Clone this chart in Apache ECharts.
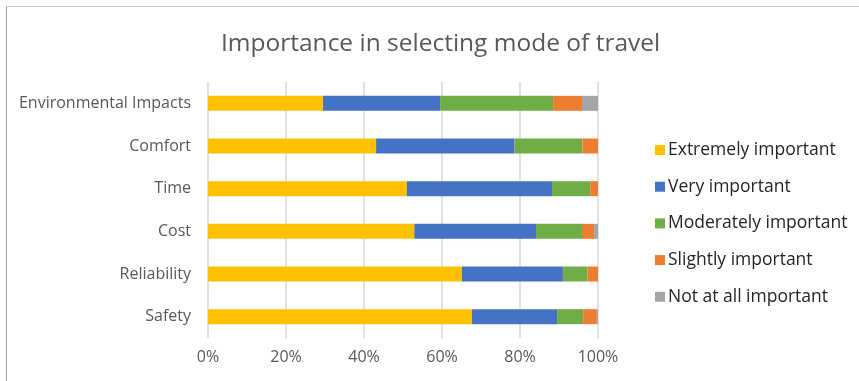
<!DOCTYPE html>
<html>
<head>
<meta charset="utf-8">
<script src="https://cdn.jsdelivr.net/npm/echarts@6/dist/echarts.min.js"></script>
<style>
  html, body { margin: 0; padding: 0; background: #fff; }
  #chart { width: 859px; height: 381px; }
</style>
</head>
<body>
<div id="chart"></div>
<script>
// Factors, listed bottom to top on the category axis
const factors = ['Safety', 'Reliability', 'Cost', 'Time', 'Comfort', 'Environmental Impacts'];

// Share of respondents (%) per importance level
const extremely  = [67.7, 65.1, 52.9, 51.0, 43.1, 29.5];
const very       = [21.8, 25.9, 31.2, 37.2, 35.5, 30.0];
const moderately = [6.7, 6.3, 11.8, 9.8, 17.4, 29.0];
const slightly   = [3.5, 2.7, 3.1, 2.0, 4.0, 7.4];
const notAtAll   = [0.3, 0, 1.0, 0, 0, 4.1];

const levelNames = ['Extremely important', 'Very important', 'Moderately important', 'Slightly important', 'Not at all important'];
const levelData = [extremely, very, moderately, slightly, notAtAll];
const levelColors = ['#FFC000', '#4472C4', '#70AD47', '#ED7D31', '#A5A5A5'];

const FONT = 'Open Sans';

const chart = echarts.init(document.getElementById('chart'), null, { renderer: 'canvas' });

chart.setOption({
  animation: false,
  backgroundColor: '#ffffff',
  textStyle: { fontFamily: FONT },
  title: {
    text: 'Importance in selecting mode of travel',
    left: 216,
    top: 27,
    textStyle: { fontFamily: FONT, fontSize: 24.5, fontWeight: 'normal', color: '#595959' }
  },
  graphic: [
    { type: 'line', shape: { x1: 6.5, y1: 6.5, x2: 859, y2: 6.5 }, style: { stroke: '#c8c8c8', lineWidth: 1 } },
    { type: 'line', shape: { x1: 6.5, y1: 6.5, x2: 6.5, y2: 381 }, style: { stroke: '#a0a0a0', lineWidth: 1 } }
  ],
  legend: {
    orient: 'vertical',
    left: 650,
    top: 136,
    itemWidth: 10,
    itemHeight: 10,
    itemGap: 18.7,
    icon: 'rect',
    data: levelNames,
    textStyle: { fontFamily: FONT, fontSize: 17.5, lineHeight: 17.5, color: '#262626', padding: [0, 0, 0, -2] }
  },
  grid: {
    left: 208,
    right: 261,
    top: 82,
    height: 256,
    containLabel: false
  },
  xAxis: {
    type: 'value',
    min: 0,
    max: 100,
    interval: 20,
    axisLine: { show: false },
    axisTick: { show: false },
    axisLabel: {
      formatter: '{value}%',
      fontFamily: FONT,
      fontSize: 16,
      color: '#595959',
      margin: 11
    },
    splitLine: { lineStyle: { color: '#d9d9d9', width: 1.5 } }
  },
  yAxis: {
    type: 'category',
    data: factors,
    axisLine: { show: false },
    axisTick: { show: false },
    axisLabel: {
      fontFamily: FONT,
      fontSize: 16,
      color: '#595959',
      margin: 17
    }
  },
  series: levelNames.map((name, i) => ({
    name: name,
    type: 'bar',
    stack: 'total',
    barWidth: 15,
    itemStyle: { color: levelColors[i] },
    data: levelData[i]
  }))
});
</script>
</body>
</html>
